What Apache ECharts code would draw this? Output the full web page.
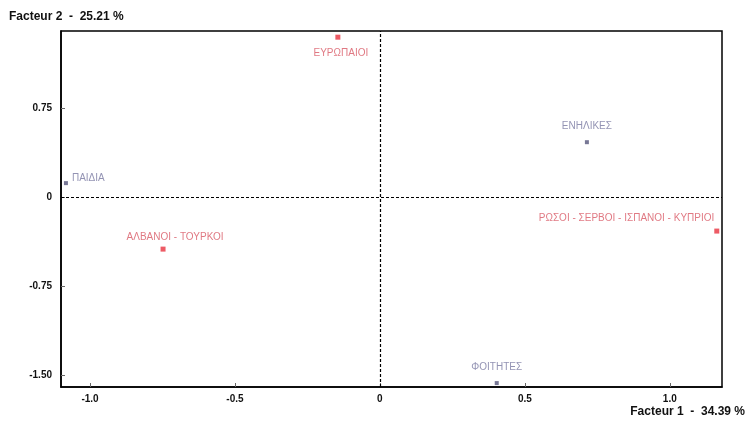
<!DOCTYPE html>
<html>
<head>
<meta charset="utf-8">
<script src="https://cdn.jsdelivr.net/npm/echarts@6/dist/echarts.min.js"></script>
<style>html,body{margin:0;padding:0;background:#fff;}#c{width:748px;height:421px;}</style>
</head>
<body>
<div id="c"></div>
<script>
const names = ["ΕΥΡΩΠΑΙΟΙ","ΕΝΗΛΙΚΕΣ","ΠΑΙΔΙΑ","ΑΛΒΑΝΟΙ - ΤΟΥΡΚΟΙ","ΡΩΣΟΙ - ΣΕΡΒΟΙ - ΙΣΠΑΝΟΙ - ΚΥΠΡΙΟΙ","ΦΟΙΤΗΤΕΣ"];
const factor1 = [-0.145, 0.714, -1.083, -0.748, 1.162, 0.403];
const factor2 = [1.348, 0.463, 0.118, -0.438, -0.286, -1.567];
const groups = ["red","blue","blue","red","red","blue"];
const xTicks = [-1.0, -0.5, 0, 0.5, 1.0];
const xTickLabels = ["-1.0","-0.5","0","0.5","1.0"];
const yTicks = [-1.5, -0.75, 0, 0.75];
const yTickLabels = ["-1.50","-0.75","0","0.75"];

const labelStyle = {
  "ΕΥΡΩΠΑΙΟΙ": {position:"bottom", distance:9, offset:[3,0]},
  "ΕΝΗΛΙΚΕΣ": {position:"top", distance:9},
  "ΠΑΙΔΙΑ": {position:"right", distance:4, offset:[0,-5]},
  "ΑΛΒΑΝΟΙ - ΤΟΥΡΚΟΙ": {position:"top", distance:4, offset:[12,0]},
  "ΡΩΣΟΙ - ΣΕΡΒΟΙ - ΙΣΠΑΝΟΙ - ΚΥΠΡΙΟΙ": {position:"left", distance:0, offset:[0,-13]},
  "ΦΟΙΤΗΤΕΣ": {position:"top", distance:9}
};
const colors = {red:{dot:"#e8323f", text:"#d85864"}, blue:{dot:"#55557a", text:"#7878a0"}};

function buildData(g){
  const out=[];
  names.forEach((n,i)=>{
    if(groups[i]!==g) return;
    const ls = labelStyle[n];
    out.push({name:n, value:[factor1[i], factor2[i]],
      label:Object.assign({show:true, formatter:"{b}", color:colors[g].text, fontSize:10, fontFamily:"Liberation Sans, Arial, sans-serif"}, ls)});
  });
  return out;
}

const chart = echarts.init(document.getElementById('c'), null, {renderer:'canvas'});
chart.setOption({
  animation:false,
  backgroundColor:'#fff',
  grid:{left:61, top:31, width:661, height:356, show:true, borderColor:'#000', borderWidth:1.5, backgroundColor:'transparent'},
  xAxis:{type:'value', min:-1.1, max:1.18,
    axisLine:{show:true, onZero:false, lineStyle:{color:'#000', width:1.5}},
    axisTick:{show:true, inside:true, length:4, customValues:xTicks, lineStyle:{color:'#666'}},
    axisLabel:{show:true, customValues:xTicks, margin:7, color:'#111', fontSize:10, fontWeight:'bold', fontFamily:'Liberation Sans Narrow, Arial, sans-serif',
      formatter:(v)=>{const i=xTicks.findIndex(t=>Math.abs(t-v)<1e-9); return i>=0?xTickLabels[i]:'';}},
    splitLine:{show:false}},
  yAxis:{type:'value', min:-1.6, max:1.4,
    axisLine:{show:true, onZero:false, lineStyle:{color:'#000', width:1.5}},
    axisTick:{show:true, inside:true, length:4, customValues:yTicks, lineStyle:{color:'#666'}},
    axisLabel:{show:true, customValues:yTicks, margin:9, color:'#111', fontSize:10, fontWeight:'bold', fontFamily:'Liberation Sans Narrow, Arial, sans-serif',
      formatter:(v)=>{const i=yTicks.findIndex(t=>Math.abs(t-v)<1e-9); return i>=0?yTickLabels[i]:'';}},
    splitLine:{show:false}},
  graphic:[
    {type:'text', left:9, top:11, style:{text:'Facteur 2  -  25.21 %', fill:'#111', font:'bold 12px "Liberation Sans Narrow", Arial, sans-serif'}},
    {type:'text', right:3, top:406, style:{text:'Facteur 1  -  34.39 %', fill:'#111', font:'bold 12px "Liberation Sans Narrow", Arial, sans-serif'}}
  ],
  series:[
    {type:'scatter', name:'red', symbol:'rect', symbolSize:5, itemStyle:{color:colors.red.dot}, data:buildData('red'), z:3,
      markLine:{silent:true, symbol:'none', label:{show:false}, lineStyle:{color:'#000', type:[3,2], width:1.2},
        data:[{xAxis:0},{yAxis:0}]}},
    {type:'scatter', name:'blue', symbol:'rect', symbolSize:4, itemStyle:{color:colors.blue.dot}, data:buildData('blue'), z:3}
  ]
});
</script>
</body>
</html>
